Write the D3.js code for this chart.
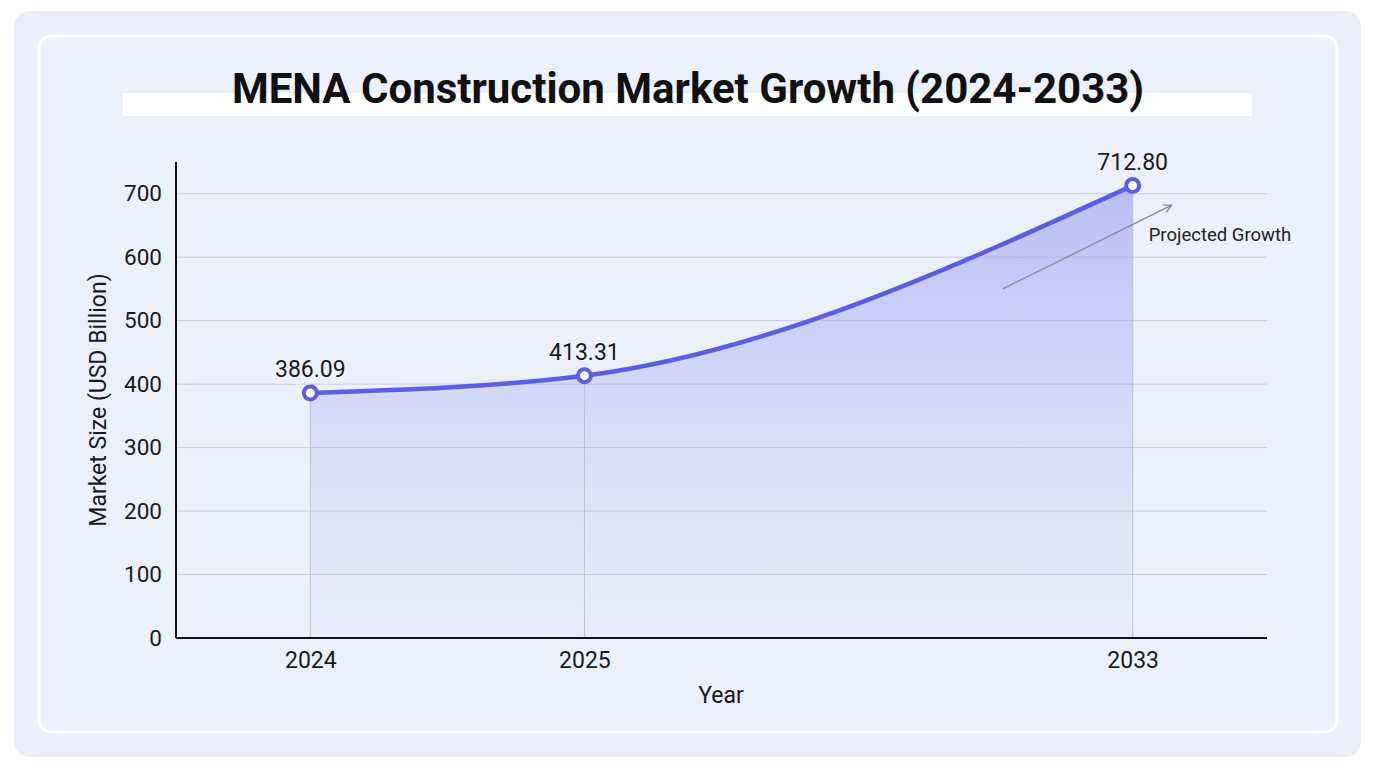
<!DOCTYPE html>
<html>
<head>
<meta charset="utf-8">
<script src="https://cdn.jsdelivr.net/npm/d3@7"></script>
<style>
  html, body { margin: 0; padding: 0; background: #ffffff; }
  svg { display: block; font-family: Roboto, "Noto Sans", sans-serif; }
</style>
</head>
<body>
<svg id="chart" width="1376" height="768"></svg>
<script>
// ---- data ----
const years = ["2024", "2025", "2033"];
const values = [386.09, 413.31, 712.80];
const slots = ["2024", "2025", "gap", "2033"]; // category slots on the x axis (third left empty)
const yTicks = [0, 100, 200, 300, 400, 500, 600, 700];
const title = "MENA Construction Market Growth (2024-2033)";
const xLabel = "Year";
const yLabel = "Market Size (USD Billion)";
const annotation = "Projected Growth";

const data = years.map((y, i) => ({ year: y, value: values[i] }));

const svg = d3.select("#chart");
const margin = { left: 176, right: 1267, top: 162, bottom: 638 };

// backgrounds
const defs = svg.append("defs");
svg.append("rect").attr("x", 14).attr("y", 11).attr("width", 1347).attr("height", 746)
  .attr("rx", 16).attr("fill", "#eaeefa");
svg.append("rect").attr("x", 39).attr("y", 36).attr("width", 1298).attr("height", 696)
  .attr("rx", 12).attr("fill", "#ecf0fb").attr("stroke", "#ffffff").attr("stroke-width", 3);

// title
svg.append("rect").attr("x", 123).attr("y", 93).attr("width", 1129).attr("height", 23).attr("fill", "#ffffff");
svg.append("text").attr("x", 688).attr("y", 103).attr("text-anchor", "middle")
  .attr("font-size", 42).attr("font-weight", 700).attr("fill", "#111111").text(title);

// scales
const x = d3.scalePoint().domain(slots).range([margin.left, margin.right]).padding(0.49);
const y = d3.scaleLinear().domain([0, 750]).range([margin.bottom, margin.top]);

// grid
svg.append("g").selectAll("line").data(yTicks.filter(t => t > 0)).join("line")
  .attr("x1", margin.left).attr("x2", margin.right)
  .attr("y1", d => y(d)).attr("y2", d => y(d))
  .attr("stroke", "#c9ccd6").attr("stroke-width", 1);

// area gradient
const areaGrad = defs.append("linearGradient").attr("id", "areaGrad")
  .attr("gradientUnits", "userSpaceOnUse")
  .attr("x1", 0).attr("y1", y(712.8)).attr("x2", 0).attr("y2", margin.bottom);
areaGrad.append("stop").attr("offset", "0%").attr("stop-color", "#8f93ef").attr("stop-opacity", 0.55);
areaGrad.append("stop").attr("offset", "100%").attr("stop-color", "#c3c6f5").attr("stop-opacity", 0.12);

const area = d3.area().x(d => x(d.year)).y0(margin.bottom).y1(d => y(d.value)).curve(d3.curveMonotoneX);
const line = d3.line().x(d => x(d.year)).y(d => y(d.value)).curve(d3.curveMonotoneX);

svg.append("path").datum(data).attr("d", area).attr("fill", "url(#areaGrad)");

// drop lines
svg.append("g").selectAll("line").data(data).join("line")
  .attr("x1", d => x(d.year)).attr("x2", d => x(d.year))
  .attr("y1", d => y(d.value)).attr("y2", margin.bottom)
  .attr("stroke", "#b8bbc8").attr("stroke-width", 1).attr("opacity", 0.8);

// annotation arrow
defs.append("marker").attr("id", "arrow").attr("viewBox", "0 0 10 10")
  .attr("refX", 9).attr("refY", 5).attr("markerWidth", 10).attr("markerHeight", 10)
  .attr("markerUnits", "userSpaceOnUse").attr("orient", "auto")
  .append("path").attr("d", "M1,1 L9,5 L1,9").attr("fill", "none").attr("stroke", "#8a8d99").attr("stroke-width", 1.4);
svg.append("line")
  .attr("x1", x("2033") - 130).attr("y1", y(550))
  .attr("x2", x("2033") + 39).attr("y2", y(682))
  .attr("stroke", "#8a8d99").attr("stroke-width", 1.4).attr("marker-end", "url(#arrow)");
svg.append("text").attr("x", x("2033") + 16).attr("y", 241)
  .attr("font-size", 18.5).attr("fill", "#222").text(annotation);

// line
svg.append("path").datum(data).attr("d", line)
  .attr("fill", "none").attr("stroke", "#5a5ee2").attr("stroke-width", 4.5).attr("stroke-linecap", "round");

// points
svg.append("g").selectAll("circle").data(data).join("circle")
  .attr("cx", d => x(d.year)).attr("cy", d => y(d.value)).attr("r", 6.5)
  .attr("fill", "#ffffff").attr("stroke", "#5a5ee2").attr("stroke-width", 4);

// value labels
svg.append("g").selectAll("text").data(data).join("text")
  .attr("x", d => x(d.year)).attr("y", d => y(d.value) - 16)
  .attr("text-anchor", "middle").attr("font-size", 23).attr("fill", "#1a1a1a")
  .text(d => d.value.toFixed(2));

// axes
const xAxis = d3.axisBottom(x).tickValues(years).tickSize(0).tickPadding(14);
const gx = svg.append("g").attr("transform", `translate(0,${margin.bottom})`).call(xAxis);
gx.select(".domain").attr("d", `M${margin.left},0H${margin.right}`).attr("stroke", "#111").attr("stroke-width", 2);
gx.selectAll("text").attr("font-size", 23).attr("fill", "#1a1a1a").attr("font-family", "Roboto, sans-serif");

const yAxis = d3.axisLeft(y).tickValues(yTicks).tickSize(0).tickPadding(14);
const gy = svg.append("g").attr("transform", `translate(${margin.left},0)`).call(yAxis);
gy.select(".domain").attr("d", `M0,${margin.top}V${margin.bottom}`).attr("stroke", "#111").attr("stroke-width", 2);
gy.selectAll("text").attr("font-size", 22.5).attr("fill", "#1a1a1a").attr("font-family", "Roboto, sans-serif");

// axis titles
svg.append("text").attr("x", 721).attr("y", 703).attr("text-anchor", "middle")
  .attr("font-size", 23).attr("fill", "#1a1a1a").text(xLabel);
svg.append("text").attr("transform", "translate(106,400) rotate(-90)").attr("text-anchor", "middle")
  .attr("font-size", 23).attr("fill", "#1a1a1a").text(yLabel);
</script>
</body>
</html>
